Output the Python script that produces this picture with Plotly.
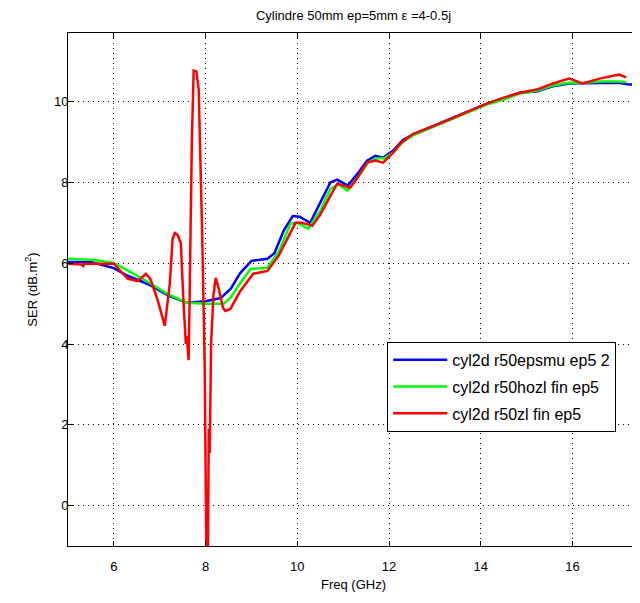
import plotly.graph_objects as go

# ---- data ----
blue_f = [5.0, 5.5, 6.0, 6.3, 6.75, 7.2, 7.6, 8.0, 8.33, 8.55, 8.75, 9.0, 9.35, 9.5, 9.7, 9.9,
          10.05, 10.28, 10.5, 10.72, 10.87, 11.1, 11.3, 11.52, 11.7, 11.87, 12.09, 12.3, 12.55,
          13.09, 13.6, 14.13, 14.5, 14.85, 15.22, 15.57, 15.93, 16.2, 16.6, 17.0, 17.2, 17.45]
blue_v = [6.03, 6.03, 5.88, 5.69, 5.48, 5.19, 5.02, 5.06, 5.14, 5.37, 5.75, 6.06, 6.11, 6.25, 6.8, 7.17,
          7.15, 7.0, 7.5, 8.0, 8.07, 7.92, 8.2, 8.54, 8.66, 8.61, 8.79, 9.05, 9.2,
          9.45, 9.7, 9.95, 10.08, 10.22, 10.25, 10.38, 10.45, 10.45, 10.46, 10.47, 10.43, 10.42]

green_f = [5.0, 5.57, 6.0, 6.59, 7.17, 7.6, 8.0, 8.39, 8.54, 8.75, 8.98, 9.35, 9.6, 9.85, 10.0,
           10.24, 10.5, 10.72, 10.9, 11.09, 11.3, 11.55, 11.75, 11.9, 12.1, 12.3, 12.55, 13.09,
           13.6, 14.13, 14.5, 14.85, 15.22, 15.57, 15.93, 16.2, 16.6, 17.0, 17.17]
green_v = [6.11, 6.08, 6.01, 5.64, 5.24, 5.02, 5.0, 5.0, 5.14, 5.5, 5.86, 5.89, 6.3, 6.98, 7.0,
           6.86, 7.3, 7.84, 7.95, 7.8, 8.1, 8.5, 8.6, 8.6, 8.75, 9.0, 9.18, 9.43,
           9.68, 9.93, 10.05, 10.2, 10.27, 10.4, 10.47, 10.46, 10.5, 10.5, 10.48]

red_f = [5.0, 5.3, 5.33, 5.37, 6.0, 6.2, 6.3, 6.52, 6.7, 6.8, 6.96, 7.11, 7.22, 7.28, 7.33, 7.39,
         7.46, 7.52, 7.57, 7.59, 7.63, 7.65, 7.7, 7.74, 7.8, 7.85, 7.89, 7.93, 7.98, 8.02, 8.05,
         8.07, 8.09, 8.12, 8.17, 8.22, 8.28, 8.38, 8.43, 8.54, 8.75, 9.04, 9.35, 9.6, 9.96, 10.1,
         10.33, 10.5, 10.72, 10.87, 11.15, 11.3, 11.52, 11.7, 11.87, 12.09, 12.24, 12.52, 13.09,
         13.6, 14.13, 14.5, 14.85, 15.22, 15.57, 15.93, 16.22, 16.59, 17.02, 17.17]
red_v = [5.99, 5.97, 5.93, 5.99, 5.99, 5.74, 5.62, 5.56, 5.74, 5.6, 5.07, 4.45, 5.5, 6.6, 6.75, 6.7,
         6.5, 5.0, 4.0, 4.2, 3.6, 5.0, 9.0, 10.77, 10.75, 10.3, 8.5, 6.5, 3.5, -1.5, -1.2,
         1.9, 1.3, 4.0, 5.2, 5.64, 5.4, 4.9, 4.82, 4.87, 5.3, 5.74, 5.81, 6.2, 7.0, 7.0,
         6.93, 7.2, 7.67, 7.97, 7.87, 8.1, 8.49, 8.54, 8.49, 8.74, 8.96, 9.2, 9.45,
         9.7, 9.95, 10.1, 10.22, 10.3, 10.45, 10.57, 10.45, 10.57, 10.67, 10.6]

names = ["cyl2d r50epsmu ep5 2", "cyl2d r50hozl fin ep5", "cyl2d r50zl fin ep5"]
colors = ["#0000ff", "#00ff00", "#ff0000"]

FONT = "Liberation Sans, Arial, sans-serif"

fig = go.Figure()
for i, (f, v) in enumerate([(blue_f, blue_v), (green_f, green_v), (red_f, red_v)]):
    fig.add_trace(go.Scatter(x=f, y=v, mode="lines", name=names[i], legendgroup=str(i),
                             line=dict(color=colors[i], width=2.5)))

axis_common = dict(showline=True, linecolor="black", linewidth=1, mirror="allticks",
                   ticks="inside", ticklen=5, tickcolor="black",
                   showgrid=True, gridcolor="black", gridwidth=1, griddash="1px,4px",
                   zeroline=False, tickfont=dict(family=FONT, size=13, color="black"))

fig.update_xaxes(range=[5, 17.45], dtick=2, tick0=0, ticklabelstandoff=8,
                 title=dict(text="Freq (GHz)", font=dict(family=FONT, size=13, color="black"), standoff=7),
                 **axis_common)
fig.update_yaxes(range=[-1, 11.7], dtick=2, tick0=0, ticklabelstandoff=-4,
                 title=dict(text="SER (dB.m<sup>2</sup>)", font=dict(family=FONT, size=13, color="black"), standoff=13),
                 **axis_common)

# The page body adds an 8px offset, so the figure is 8px smaller on each axis.
fig.update_layout(
    width=632, height=595,
    margin=dict(l=60, r=1, t=25, b=57, autoexpand=False),
    paper_bgcolor="white", plot_bgcolor="white",
    title=dict(text="Cylindre 50mm ep=5mm ε =4-0.5j", x=0.5, xref="paper",
               y=1 - 7 / 595, yref="container", yanchor="middle",
               font=dict(family=FONT, size=13, color="black")),
    legend=dict(x=0.559, y=0.398, xanchor="left", yanchor="top",
                bgcolor="white", bordercolor="black", borderwidth=1,
                tracegroupgap=3, itemwidth=54,
                font=dict(family=FONT, size=16, color="black")),
    showlegend=True,
)

fig.write_html("out.html")
